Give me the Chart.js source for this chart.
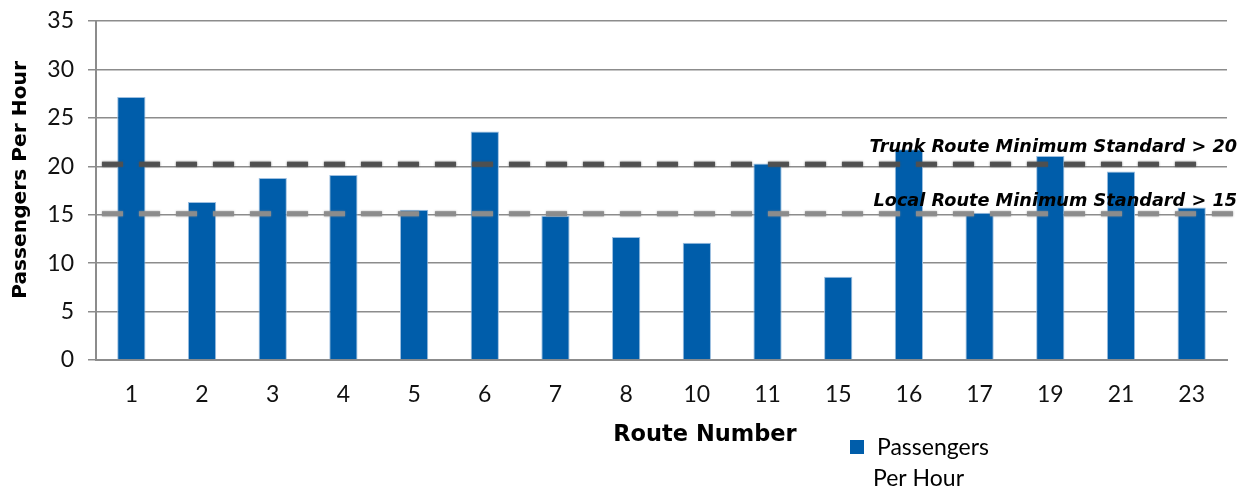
<!DOCTYPE html>
<html>
<head>
<meta charset="utf-8">
<script src="https://cdn.jsdelivr.net/npm/chart.js@4.4.1/dist/chart.umd.min.js"></script>
<style>
  html, body { margin: 0; padding: 0; background: #ffffff; }
  #wrap { width: 1247px; height: 492px; position: relative; }
</style>
</head>
<body>
<div id="wrap"><canvas id="c" width="1247" height="492"></canvas></div>
<script>
// ---- data ----
const routes = ['1', '2', '3', '4', '5', '6', '7', '8', '10', '11', '15', '16', '17', '19', '21', '23'];
const passengersPerHour = [27.15, 16.3, 18.8, 19.1, 15.5, 23.6, 14.9, 12.7, 12.1, 20.3, 8.6, 21.75, 15.2, 21.05, 19.45, 15.75];
const seriesLabel = ['Passengers', 'Per Hour'];
const standardLabels = ['Trunk Route Minimum Standard > 20', 'Local Route Minimum Standard > 15'];
const standardValues = [20.2, 15.1];
const yTicks = [0, 5, 10, 15, 20, 25, 30, 35];
const xTitle = 'Route Number';
const yTitle = 'Passengers Per Hour';

// ---- styles ----
const BAR_COLOR = '#005DAA';
const GRID = '#8c8c8c';
const TICK_FONT = { family: 'Lato', size: 23 };
const standardStyles = [
  { color: 'rgba(80,80,80,0.95)', x0: 102, x1: 1207, textY: 147 },
  { color: 'rgba(140,140,140,0.95)', x0: 102, x1: 1240, textY: 201 }
];

const overlay = {
  id: 'overlay',
  afterDatasetsDraw(chart) {
    const ctx = chart.ctx;
    const y = chart.scales.y;
    ctx.save();
    // dashed standard lines
    standardValues.forEach((v, i) => {
      const st = standardStyles[i];
      const py = y.getPixelForValue(v);
      ctx.strokeStyle = st.color;
      ctx.lineWidth = 5;
      ctx.setLineDash([21, 16]);
      ctx.shadowColor = st.color;
      ctx.shadowBlur = 2;
      ctx.beginPath();
      ctx.moveTo(st.x0, py);
      ctx.lineTo(st.x1, py);
      ctx.stroke();
    });
    ctx.setLineDash([]);
    ctx.shadowBlur = 0;
    // standard labels
    ctx.fillStyle = '#000';
    ctx.textAlign = 'right';
    ctx.textBaseline = 'middle';
    ctx.font = 'italic bold 17.7px "DejaVu Sans"';
    standardLabels.forEach((t, i) => {
      ctx.fillText(t, 1237, standardStyles[i].textY);
    });
    // axis titles
    ctx.font = 'bold 22.5px "DejaVu Sans"';
    ctx.textAlign = 'center';
    ctx.fillText(xTitle, 705, 435);
    ctx.save();
    ctx.translate(21, 180);
    ctx.rotate(-Math.PI / 2);
    ctx.font = 'bold 20.2px "DejaVu Sans"';
    ctx.fillText(yTitle, 0, 0);
    ctx.restore();
    // legend
    const ds = chart.data.datasets[0];
    ctx.fillStyle = ds.backgroundColor;
    ctx.fillRect(850, 440, 14, 14);
    ctx.fillStyle = '#000';
    ctx.textAlign = 'left';
    ctx.font = '23px Lato';
    ctx.fillText(ds.label[0], 877, 448);
    ctx.fillText(ds.label[1], 873, 479);
    ctx.restore();
  }
};

new Chart(document.getElementById('c'), {
  type: 'bar',
  data: {
    labels: routes,
    datasets: [{
      label: seriesLabel,
      data: passengersPerHour,
      backgroundColor: BAR_COLOR,
      borderColor: '#9dbfe0',
      borderWidth: 1,
      barPercentage: 0.4,
      categoryPercentage: 1.0
    }]
  },
  options: {
    responsive: false,
    animation: false,
    layout: { padding: { left: 0, top: 21, right: 20, bottom: 0 } },
    plugins: { legend: { display: false }, tooltip: { enabled: false } },
    scales: {
      x: {
        afterFit(s) { s.height = 132; s.paddingLeft = 0; s.paddingRight = 0; },
        grid: { display: false, drawTicks: false },
        border: { display: true, color: GRID, width: 2 },
        ticks: { font: TICK_FONT, color: '#111', padding: 21, maxRotation: 0 }
      },
      y: {
        min: 0, max: 35,
        afterFit(s) { s.width = 96; s.paddingTop = 0; s.paddingBottom = 0; },
        afterBuildTicks(s) { s.ticks = yTicks.map(v => ({ value: v })); },
        grid: { color: GRID, lineWidth: 1.5, tickLength: 8 },
        border: { display: true, color: GRID, width: 2 },
        ticks: { font: TICK_FONT, color: '#111', padding: 14 }
      }
    }
  },
  plugins: [overlay]
});
</script>
</body>
</html>
